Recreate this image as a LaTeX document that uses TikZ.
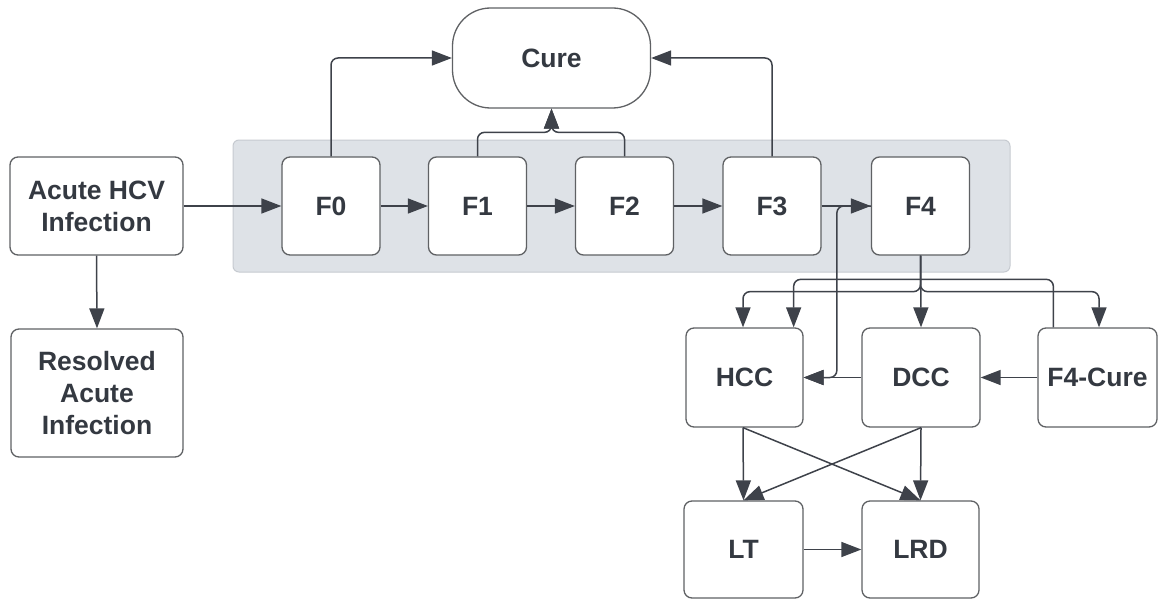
\documentclass[tikz,border=0pt]{standalone}
\usepackage{fontspec}
\setmainfont{Liberation Sans}
\usetikzlibrary{arrows.meta,calc}
\definecolor{lineC}{RGB}{62,66,74}
\definecolor{boxC}{RGB}{95,97,100}
\definecolor{txtC}{RGB}{52,57,65}
\definecolor{bandF}{RGB}{222,226,231}
\definecolor{bandD}{RGB}{198,202,208}
\tikzset{
  box/.style={draw=boxC, line width=1.3pt, fill=white, rounded corners=8pt,
    align=center, text=txtC, font=\bfseries\fontsize{26.5}{32}\selectfont, inner sep=0pt},
  conn/.style={draw=lineC, line width=1.5pt, rounded corners=7pt,
    -{Triangle[length=20pt,width=15pt]}},
}
\begin{document}
\begin{tikzpicture}[x=1pt,y=-1pt]
\useasboundingbox (0,0) rectangle (1158,599);
% band
\node[draw=bandD, fill=bandF, line width=1pt, rounded corners=6pt,
  minimum width=777pt, minimum height=132pt, inner sep=0pt] (band) at (621.5,206) {};
% nodes
\node[box, minimum width=173pt, minimum height=98pt] (acute) at (96.5,206) {Acute HCV\\Infection};
\node[box, minimum width=172pt, minimum height=128pt] (res) at (97,393) {Resolved\\Acute\\Infection};
\node[box, minimum width=198pt, minimum height=100pt, rounded corners=38pt] (cure) at (551.5,58) {Cure};
\node[box, minimum width=98pt, minimum height=98pt] (f0) at (331,206) {F0};
\node[box, minimum width=98pt, minimum height=98pt] (f1) at (477.5,206) {F1};
\node[box, minimum width=98pt, minimum height=98pt] (f2) at (624.5,206) {F2};
\node[box, minimum width=98pt, minimum height=98pt] (f3) at (772,206) {F3};
\node[box, minimum width=98pt, minimum height=98pt] (f4) at (920.5,206) {F4};
\node[box, minimum width=117pt, minimum height=99pt] (hcc) at (744.5,377.5) {HCC};
\node[box, minimum width=118pt, minimum height=99pt] (dcc) at (921,377.5) {DCC};
\node[box, minimum width=119pt, minimum height=99pt] (fc) at (1097.5,377.5) {F4-Cure};
\node[box, minimum width=119pt, minimum height=97pt] (lt) at (743.5,549.5) {LT};
\node[box, minimum width=117pt, minimum height=97pt] (lrd) at (920.5,549.5) {LRD};
% connectors
\draw[conn] (acute.east) -- (f0.west);
\draw[conn] (acute.south) -- (res.north);
\draw[conn] (f0.east) -- (f1.west);
\draw[conn] (f1.east) -- (f2.west);
\draw[conn] (f2.east) -- (f3.west);
\draw[conn] (f3.east) -- (f4.west);
\draw[conn] (f0.north) |- (cure.west);
\draw[conn] (f3.north) |- (cure.east);
\draw[conn] (f1.north) -- ++(0,-24) -| (cure.south);
\draw[conn] (f2.north) -- ++(0,-24) -| (cure.south);
\draw[conn] ([xshift=16pt]fc.north west) -- ++(0,-48) -| ([xshift=-10pt]hcc.north east);
\draw[conn] (f4.south) -- ++(0,36) -| ([xshift=-1.5pt]hcc.north);
\draw[conn] (f4.south) -- ++(0,36) -| ([xshift=1.5pt]fc.north);
\draw[conn] (f4.south) -- (dcc.north);
\draw[conn] (f4.west) -- ++(-34,0) |- (hcc.east);
\draw[conn] (dcc.west) -- (hcc.east);
\draw[conn] (fc.west) -- (dcc.east);
\draw[conn] ([xshift=-1.5pt]hcc.south) -- (lt.north);
\draw[conn] ([xshift=-1.5pt]hcc.south) -- (lrd.north);
\draw[conn] (dcc.south) -- (lt.north);
\draw[conn] (dcc.south) -- (lrd.north);
\draw[conn] (lt.east) -- (lrd.west);
\end{tikzpicture}
\end{document}
